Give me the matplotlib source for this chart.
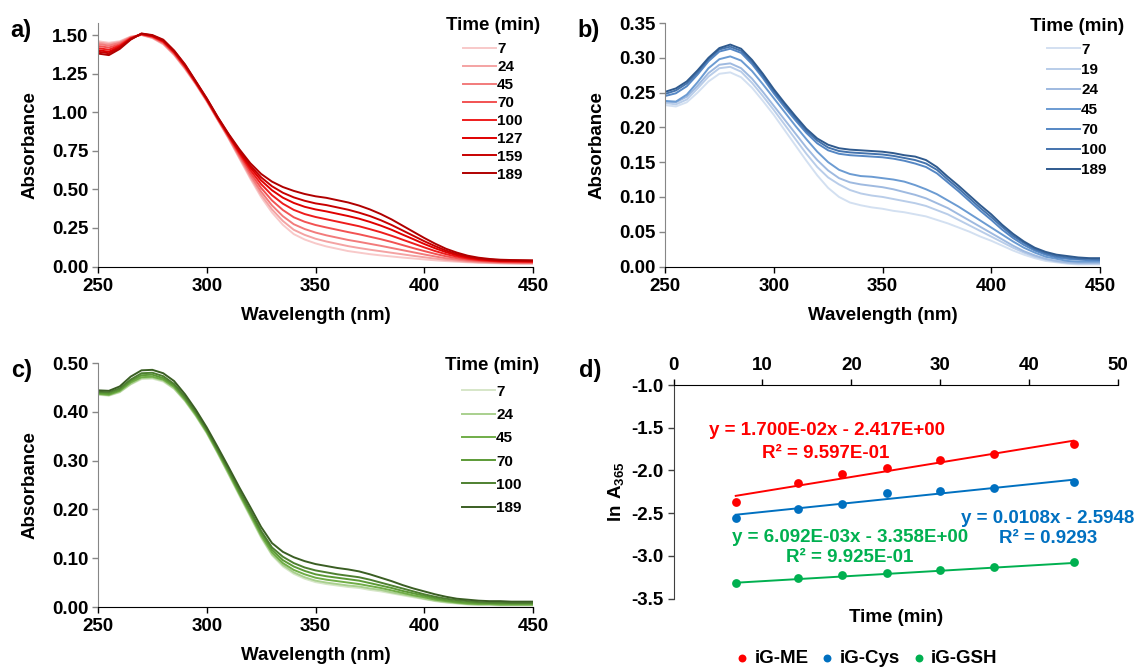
import numpy as np
import matplotlib
matplotlib.use("Agg")
import matplotlib.pyplot as plt
from matplotlib.ticker import FormatStrFormatter

plt.rcParams['font.family'] = ['Liberation Sans', 'DejaVu Sans']
plt.rcParams['font.weight'] = 'bold'
plt.rcParams['axes.unicode_minus'] = False
plt.rcParams['mathtext.fontset'] = 'custom'
plt.rcParams['mathtext.rm'] = 'Liberation Sans'
plt.rcParams['mathtext.bf'] = 'Liberation Sans:bold'

# ---------------------------------------------------------------- data
wavelength = np.arange(250, 451, 5)  # nm

# a) iG-ME spectra
times_a = [7, 24, 45, 70, 100, 127, 159, 189]
abs_a_7 = [1.46, 1.45, 1.46, 1.49, 1.50, 1.48, 1.44, 1.37, 1.28, 1.18, 1.07, 0.95, 0.83, 0.70, 0.57, 0.45, 0.35, 0.27, 0.21, 0.175, 0.15,
           0.13, 0.115, 0.10, 0.09, 0.08, 0.072, 0.065, 0.058, 0.052, 0.046, 0.040, 0.035, 0.031, 0.027, 0.024, 0.022, 0.020, 0.019, 0.018, 0.018]
abs_a_24 = [1.452, 1.442, 1.455, 1.488, 1.501, 1.482, 1.443, 1.373, 1.283, 1.182, 1.072, 0.952, 0.833, 0.706, 0.58, 0.465, 0.37, 0.295, 0.238, 0.205, 0.18,
            0.162, 0.147, 0.132, 0.12, 0.109, 0.099, 0.089, 0.079, 0.069, 0.06, 0.051, 0.043, 0.037, 0.031, 0.027, 0.025, 0.022, 0.021, 0.02, 0.02]
abs_a_45 = [1.442, 1.432, 1.449, 1.485, 1.502, 1.485, 1.447, 1.377, 1.287, 1.185, 1.075, 0.955, 0.837, 0.714, 0.593, 0.485, 0.396, 0.326, 0.274, 0.243, 0.22,
            0.202, 0.187, 0.172, 0.16, 0.147, 0.134, 0.12, 0.106, 0.092, 0.078, 0.065, 0.053, 0.045, 0.037, 0.032, 0.028, 0.026, 0.024, 0.023, 0.023]
abs_a_70 = [1.429, 1.419, 1.44, 1.482, 1.504, 1.488, 1.452, 1.382, 1.292, 1.188, 1.078, 0.958, 0.842, 0.723, 0.609, 0.509, 0.428, 0.366, 0.319, 0.29, 0.269,
            0.253, 0.238, 0.223, 0.209, 0.193, 0.177, 0.159, 0.139, 0.119, 0.1, 0.082, 0.066, 0.054, 0.044, 0.037, 0.033, 0.029, 0.028, 0.027, 0.027]
abs_a_100 = [1.415, 1.405, 1.432, 1.479, 1.506, 1.491, 1.457, 1.387, 1.297, 1.191, 1.081, 0.961, 0.847, 0.734, 0.626, 0.534, 0.462, 0.407, 0.367, 0.34, 0.321,
             0.306, 0.291, 0.276, 0.261, 0.242, 0.222, 0.199, 0.174, 0.149, 0.124, 0.1, 0.08, 0.064, 0.051, 0.042, 0.037, 0.033, 0.032, 0.031, 0.03]
abs_a_127 = [1.402, 1.392, 1.424, 1.476, 1.507, 1.494, 1.462, 1.392, 1.302, 1.194, 1.084, 0.964, 0.852, 0.743, 0.642, 0.558, 0.494, 0.446, 0.412, 0.387, 0.37,
             0.357, 0.342, 0.327, 0.31, 0.289, 0.265, 0.238, 0.207, 0.177, 0.146, 0.118, 0.093, 0.073, 0.058, 0.048, 0.041, 0.037, 0.036, 0.035, 0.034]
abs_a_159 = [1.392, 1.382, 1.418, 1.473, 1.509, 1.497, 1.466, 1.396, 1.306, 1.197, 1.087, 0.967, 0.856, 0.751, 0.655, 0.578, 0.52, 0.478, 0.448, 0.426, 0.409,
             0.398, 0.383, 0.368, 0.349, 0.327, 0.3, 0.269, 0.234, 0.199, 0.164, 0.132, 0.103, 0.081, 0.064, 0.052, 0.045, 0.04, 0.039, 0.038, 0.037]
abs_a_189 = [1.38, 1.37, 1.41, 1.47, 1.51, 1.50, 1.47, 1.40, 1.31, 1.20, 1.09, 0.97, 0.86, 0.76, 0.67, 0.60, 0.55, 0.515, 0.49, 0.47, 0.455,
             0.445, 0.43, 0.415, 0.395, 0.37, 0.34, 0.305, 0.265, 0.225, 0.185, 0.148, 0.115, 0.09, 0.07, 0.057, 0.049, 0.044, 0.042, 0.041, 0.040]
colors_a = ['#f8c9c9', '#f4a3a3', '#f27b7b', '#f25252', '#ee1c1c', '#e00000', '#c80000', '#b00000']

# b) iG-Cys spectra
times_b = [7, 19, 24, 45, 70, 100, 189]
abs_b_7 = [0.232, 0.230, 0.236, 0.250, 0.266, 0.277, 0.279, 0.272, 0.257, 0.238, 0.218, 0.196, 0.174, 0.152, 0.131, 0.113, 0.100, 0.092, 0.088, 0.085, 0.083,
           0.080, 0.078, 0.075, 0.072, 0.067, 0.062, 0.056, 0.050, 0.043, 0.037, 0.030, 0.023, 0.017, 0.012, 0.008, 0.006, 0.004, 0.003, 0.003, 0.003]
abs_b_19 = [0.235, 0.233, 0.240, 0.256, 0.273, 0.285, 0.287, 0.280, 0.264, 0.245, 0.225, 0.204, 0.183, 0.162, 0.143, 0.128, 0.118, 0.110, 0.105, 0.102, 0.100,
            0.097, 0.094, 0.091, 0.087, 0.081, 0.075, 0.067, 0.059, 0.051, 0.043, 0.035, 0.027, 0.020, 0.014, 0.010, 0.007, 0.005, 0.004, 0.004, 0.004]
abs_b_24 = [0.237, 0.236, 0.244, 0.260, 0.278, 0.290, 0.292, 0.285, 0.270, 0.251, 0.231, 0.211, 0.191, 0.171, 0.153, 0.138, 0.127, 0.121, 0.118, 0.116, 0.114,
            0.111, 0.107, 0.103, 0.098, 0.091, 0.084, 0.075, 0.066, 0.057, 0.048, 0.039, 0.030, 0.022, 0.016, 0.011, 0.008, 0.006, 0.005, 0.005, 0.005]
abs_b_45 = [0.238, 0.237, 0.247, 0.265, 0.285, 0.298, 0.302, 0.296, 0.281, 0.262, 0.242, 0.222, 0.202, 0.183, 0.165, 0.150, 0.139, 0.133, 0.130, 0.129, 0.127,
            0.125, 0.122, 0.117, 0.111, 0.104, 0.095, 0.086, 0.076, 0.066, 0.056, 0.046, 0.036, 0.027, 0.020, 0.014, 0.011, 0.008, 0.007, 0.007, 0.007]
abs_b_70 = [0.245, 0.249, 0.259, 0.276, 0.295, 0.309, 0.313, 0.307, 0.291, 0.271, 0.249, 0.229, 0.210, 0.192, 0.177, 0.167, 0.162, 0.160, 0.159, 0.158, 0.157,
            0.155, 0.152, 0.148, 0.143, 0.134, 0.121, 0.108, 0.094, 0.080, 0.067, 0.053, 0.041, 0.031, 0.023, 0.017, 0.013, 0.011, 0.010, 0.009, 0.009]
abs_b_100 = [0.248, 0.253, 0.263, 0.279, 0.298, 0.312, 0.316, 0.310, 0.294, 0.274, 0.252, 0.232, 0.213, 0.195, 0.181, 0.171, 0.166, 0.164, 0.163, 0.162, 0.161,
             0.159, 0.156, 0.153, 0.148, 0.139, 0.125, 0.112, 0.098, 0.084, 0.071, 0.057, 0.044, 0.034, 0.025, 0.019, 0.015, 0.013, 0.011, 0.011, 0.010]
abs_b_189 = [0.251, 0.256, 0.266, 0.282, 0.300, 0.314, 0.319, 0.313, 0.297, 0.277, 0.255, 0.235, 0.216, 0.198, 0.184, 0.175, 0.170, 0.168, 0.167, 0.166, 0.165,
             0.163, 0.160, 0.158, 0.153, 0.143, 0.129, 0.116, 0.102, 0.088, 0.075, 0.060, 0.047, 0.036, 0.027, 0.021, 0.017, 0.015, 0.013, 0.012, 0.012]
colors_b = ['#d3e0f1', '#b9cde9', '#9fbae0', '#6b9bd2', '#5587c4', '#4473ad', '#2f5a8e']

# c) iG-GSH spectra
times_c = [7, 24, 45, 70, 100, 189]
abs_c_7 = [0.435, 0.433, 0.440, 0.456, 0.467, 0.468, 0.462, 0.447, 0.422, 0.391, 0.356, 0.315, 0.272, 0.228, 0.185, 0.142, 0.106, 0.083, 0.068, 0.058, 0.051,
           0.047, 0.044, 0.041, 0.039, 0.035, 0.032, 0.028, 0.024, 0.020, 0.016, 0.012, 0.009, 0.007, 0.005, 0.004, 0.004, 0.003, 0.003, 0.003, 0.003]
abs_c_24 = [0.436, 0.434, 0.441, 0.457, 0.469, 0.470, 0.464, 0.448, 0.423, 0.392, 0.357, 0.316, 0.273, 0.230, 0.187, 0.144, 0.108, 0.086, 0.071, 0.061, 0.054,
            0.050, 0.047, 0.044, 0.042, 0.038, 0.035, 0.030, 0.026, 0.022, 0.017, 0.013, 0.010, 0.008, 0.006, 0.005, 0.005, 0.004, 0.004, 0.004, 0.004]
abs_c_45 = [0.437, 0.435, 0.443, 0.460, 0.471, 0.472, 0.466, 0.451, 0.425, 0.394, 0.359, 0.318, 0.276, 0.232, 0.190, 0.147, 0.112, 0.090, 0.076, 0.067, 0.060,
            0.056, 0.053, 0.050, 0.047, 0.043, 0.039, 0.034, 0.029, 0.024, 0.020, 0.015, 0.012, 0.009, 0.007, 0.006, 0.006, 0.005, 0.005, 0.005, 0.005]
abs_c_70 = [0.439, 0.437, 0.445, 0.463, 0.475, 0.476, 0.469, 0.454, 0.428, 0.397, 0.361, 0.321, 0.279, 0.235, 0.194, 0.152, 0.117, 0.096, 0.083, 0.074, 0.067,
            0.063, 0.060, 0.057, 0.054, 0.049, 0.044, 0.039, 0.033, 0.028, 0.023, 0.018, 0.014, 0.011, 0.009, 0.008, 0.008, 0.007, 0.007, 0.007, 0.007]
abs_c_100 = [0.441, 0.440, 0.448, 0.466, 0.479, 0.480, 0.473, 0.457, 0.431, 0.399, 0.364, 0.323, 0.282, 0.239, 0.198, 0.156, 0.122, 0.103, 0.090, 0.081, 0.075,
             0.071, 0.067, 0.064, 0.061, 0.056, 0.050, 0.044, 0.038, 0.032, 0.026, 0.021, 0.017, 0.014, 0.012, 0.010, 0.009, 0.009, 0.008, 0.008, 0.008]
abs_c_189 = [0.444, 0.443, 0.452, 0.472, 0.485, 0.486, 0.479, 0.463, 0.436, 0.404, 0.368, 0.328, 0.287, 0.245, 0.205, 0.164, 0.131, 0.113, 0.102, 0.094, 0.088,
             0.084, 0.080, 0.077, 0.073, 0.067, 0.060, 0.053, 0.045, 0.038, 0.032, 0.026, 0.021, 0.017, 0.015, 0.013, 0.012, 0.012, 0.011, 0.011, 0.011]
colors_c = ['#d6e6c8', '#a9d08e', '#70ad47', '#5c9a36', '#4e8030', '#3a5e23']

# d) ln A365 kinetics
time_d = [7, 14, 19, 24, 30, 36, 45]
ln_me = [-2.375, -2.152, -2.043, -1.969, -1.875, -1.805, -1.691]
ln_cys = [-2.559, -2.453, -2.395, -2.262, -2.246, -2.211, -2.133]
ln_gsh = [-3.313, -3.258, -3.223, -3.207, -3.164, -3.129, -3.078]
fit_names = ['iG-ME', 'iG-Cys', 'iG-GSH']
fit_slope = [1.700e-02, 0.0108, 6.092e-03]
fit_intercept = [-2.417, -2.5948, -3.358]
fit_r2 = [0.9597, 0.9293, 0.9925]
colors_d = ['#ff0000', '#0070c0', '#00b050']

# ---------------------------------------------------------------- layout
W, H = 1136, 669
fig = plt.figure(figsize=(W / 100, H / 100), dpi=100)
FS = 13.5
AXIS_GRAY = '#868686'


def px_axes(left, top, right, bottom):
    return fig.add_axes([left / W, 1 - bottom / H, (right - left) / W, (bottom - top) / H])


def tag_at(x, y, s):
    fig.text(x / W, 1 - y / H, s, fontsize=17, fontweight='bold', ha='center', va='center')


def spectrum_panel(box, times, series, colors, ylim, yticks, leg_x, leg_top, spacing, title_gap):
    ax = px_axes(*box)
    for t, y, c in zip(times, series, colors):
        ax.plot(wavelength, y, color=c, lw=1.4, label=str(t))
    ax.set_xlim(250, 450)
    ax.set_ylim(*ylim)
    ax.set_xticks([250, 300, 350, 400, 450])
    ax.set_yticks(yticks)
    ax.yaxis.set_major_formatter(FormatStrFormatter('%.2f'))
    for s in ('top', 'right'):
        ax.spines[s].set_visible(False)
    ax.spines['left'].set_color(AXIS_GRAY)
    ax.spines['bottom'].set_color('black')
    ax.tick_params(axis='y', direction='out', length=4, width=1.0, color=AXIS_GRAY, pad=3, labelsize=FS)
    ax.tick_params(axis='x', direction='out', length=4, width=1.0, color='black', pad=4, labelsize=FS)
    ax.set_xlabel('Wavelength (nm)', fontsize=FS, fontweight='bold', va='center')
    ax.xaxis.set_label_coords(0.5, -0.2)
    ax.set_ylabel('Absorbance', fontsize=FS, fontweight='bold', va='center')
    ax.yaxis.set_label_coords(-0.156, 0.5)
    leg = ax.legend(loc='upper center', bbox_to_anchor=(leg_x / W, 1 - leg_top / H),
                    bbox_transform=fig.transFigure, frameon=False, title='Time (min)',
                    fontsize=11, title_fontsize=FS, handlelength=2.1, handletextpad=0.1,
                    labelspacing=spacing, borderpad=0, borderaxespad=0)
    leg.get_title().set_fontweight('bold')
    for txt in leg.get_texts():
        txt.set_fontweight('bold')
    # gap between the legend title and the first entry (points)
    leg._legend_box.sep = title_gap
    return ax


spectrum_panel((98, 22.7, 533, 266.5), times_a,
               [abs_a_7, abs_a_24, abs_a_45, abs_a_70, abs_a_100, abs_a_127, abs_a_159, abs_a_189],
               colors_a, (0, 1.58), np.arange(0, 1.51, 0.25), 493, 17, 0.255, 6.1)
spectrum_panel((665, 23, 1100, 266.5), times_b,
               [abs_b_7, abs_b_19, abs_b_24, abs_b_45, abs_b_70, abs_b_100, abs_b_189],
               colors_b, (0, 0.35), np.arange(0, 0.351, 0.05), 1077, 18, 0.40, 5.6)
spectrum_panel((98, 363, 533, 607), times_c,
               [abs_c_7, abs_c_24, abs_c_45, abs_c_70, abs_c_100, abs_c_189],
               colors_c, (0, 0.5), np.arange(0, 0.51, 0.1), 492, 357, 0.61, 7.6)
tag_at(21, 31, 'a)')
tag_at(589, 31, 'b)')
tag_at(22, 371, 'c)')
tag_at(590, 371, 'd)')

# d) kinetics panel, x axis drawn along the top
ax_d = px_axes(673.5, 385, 1118, 598.5)
handles = []
for name, ys, c, m, b in zip(fit_names, [ln_me, ln_cys, ln_gsh], colors_d, fit_slope, fit_intercept):
    h = ax_d.scatter(time_d, ys, s=40, color=c, zorder=3, label=name, linewidths=0)
    handles.append(h)
    xs = np.array([time_d[0], time_d[-1]])
    ax_d.plot(xs, m * xs + b, color=c, lw=1.4, zorder=2)
ax_d.set_xlim(0, 50)
ax_d.set_ylim(-3.5, -1.0)
ax_d.set_xticks(np.arange(0, 51, 10))
ax_d.set_yticks(np.arange(-3.5, -0.99, 0.5))
ax_d.yaxis.set_major_formatter(FormatStrFormatter('%.1f'))
ax_d.xaxis.tick_top()
ax_d.spines['bottom'].set_visible(False)
ax_d.spines['right'].set_visible(False)
ax_d.spines['top'].set_color('black')
ax_d.spines['left'].set_color('#404040')
ax_d.tick_params(axis='x', direction='out', length=4, width=1.0, color='black', pad=4, labelsize=FS)
ax_d.tick_params(axis='y', direction='out', length=4, width=1.0, color='#404040', pad=3, labelsize=FS)
ax_d.set_xlabel('Time (min)', fontsize=FS, fontweight='bold', va='center')
ax_d.xaxis.set_label_position('bottom')
ax_d.xaxis.set_label_coords(0.5, -0.05)
ax_d.set_ylabel(r'$\mathbf{ln\ A}_{\mathrm{365}}$', fontsize=FS, va='center')
ax_d.yaxis.set_label_coords(-0.128, 0.5)

# trendline equations
eq_pos = [((0.345, 0.789), (0.343, 0.681)),
          ((0.842, 0.377), (0.842, 0.279)),
          ((0.397, 0.288), (0.397, 0.190))]


def sci(v):
    return f'{v:.3E}'


eq_text = [
    (f'y = {sci(fit_slope[0])}x - {sci(abs(fit_intercept[0]))}', f'R² = {sci(fit_r2[0])}'),
    (f'y = {fit_slope[1]:.4f}x - {abs(fit_intercept[1]):.4f}', f'R² = {fit_r2[1]:.4f}'),
    (f'y = {sci(fit_slope[2])}x - {sci(abs(fit_intercept[2]))}', f'R² = {sci(fit_r2[2])}'),
]
for (p1, p2), (s1, s2), c in zip(eq_pos, eq_text, colors_d):
    ax_d.text(*p1, s1, transform=ax_d.transAxes, color=c, fontsize=FS, fontweight='bold',
              ha='center', va='center')
    ax_d.text(*p2, s2, transform=ax_d.transAxes, color=c, fontsize=FS, fontweight='bold',
              ha='center', va='center')

leg_d = ax_d.legend(handles=handles, loc='center', bbox_to_anchor=(866 / W, 1 - 658 / H),
                    bbox_transform=fig.transFigure, ncol=3, frameon=False, fontsize=FS,
                    handletextpad=0.25, columnspacing=0.6, borderpad=0, handlelength=0.8,
                    scatterpoints=1, markerscale=0.9)
for txt in leg_d.get_texts():
    txt.set_fontweight('bold')

fig.savefig('out.png', dpi=100)
